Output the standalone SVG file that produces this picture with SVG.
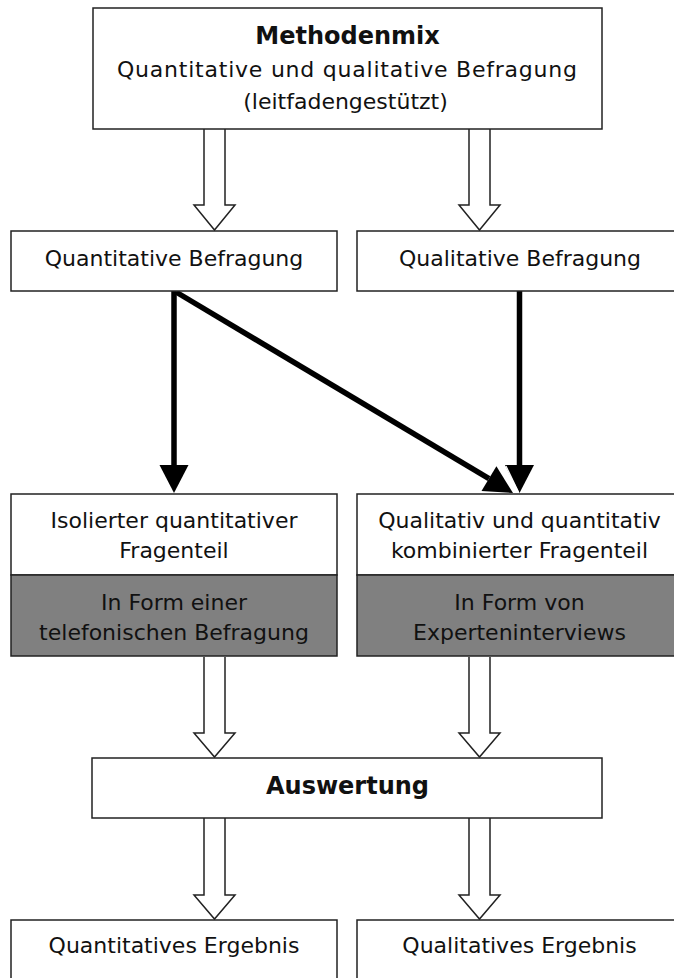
<svg xmlns="http://www.w3.org/2000/svg" width="674" height="978" viewBox="0 0 674 978">
<style>
.box{fill:#fff;stroke:#222;stroke-width:1.5}
.grey{fill:#808080;stroke:#222;stroke-width:1.5}
.t{font-family:"DejaVu Sans","Verdana",sans-serif;font-size:22px;fill:#111;text-anchor:middle}
.b{font-family:"DejaVu Sans","Verdana",sans-serif;font-size:24px;font-weight:bold;fill:#111;text-anchor:middle}
.hollow{fill:#fff;stroke:#222;stroke-width:1.5;stroke-linejoin:miter}
.thick{stroke:#000;stroke-width:5.5;fill:none}
.head{fill:#000}
</style>
<rect width="674" height="978" fill="#fff"/>
<g id="connectors">
  <path class="hollow" d="M204,129 V205 H194 L214.5,230 L235,205 H225 V129"/>
  <path class="hollow" d="M469,129 V205 H459 L479.5,230 L500,205 H490 V129"/>
  <path class="hollow" d="M204,657 V733 H194 L214.5,757 L235,733 H225 V657"/>
  <path class="hollow" d="M469,657 V733 H459 L479.5,757 L500,733 H490 V657"/>
  <path class="hollow" d="M204,818 V895 H194 L214.5,919 L235,895 H225 V818"/>
  <path class="hollow" d="M469,818 V895 H459 L479.5,919 L500,895 H490 V818"/>
  <line class="thick" x1="174" y1="291" x2="174" y2="467"/>
  <polygon class="head" points="159.5,465 188.5,465 174,493"/>
  <line class="thick" x1="176" y1="292" x2="489" y2="478.7"/>
  <polygon class="head" points="481.5,491.1 496.4,466.2 513,493"/>
  <line class="thick" x1="519.5" y1="291" x2="519.5" y2="467"/>
  <polygon class="head" points="505,465 534,465 519.5,493"/>
  <line x1="506" y1="466" x2="518.5" y2="492" stroke="#fff" stroke-width="1.2"/>
</g>
<g id="methodenmix">
  <rect class="box" x="93" y="8" width="509" height="121"/>
  <text class="b" x="347.5" y="44">Methodenmix</text>
  <text class="t" x="347" y="77" textLength="460" lengthAdjust="spacing">Quantitative und qualitative Befragung</text>
  <text class="t" x="345.5" y="109">(leitfadengestützt)</text>
</g>
<g id="quantitative-befragung">
  <rect class="box" x="11" y="231" width="326" height="60"/>
  <text class="t" x="174" y="266">Quantitative Befragung</text>
</g>
<g id="qualitative-befragung">
  <rect class="box" x="357" y="231" width="326" height="60"/>
  <text class="t" x="520" y="266">Qualitative Befragung</text>
</g>
<g id="isolierter-fragenteil">
  <rect class="box" x="11" y="494" width="326" height="81"/>
  <rect class="grey" x="11" y="575" width="326" height="81"/>
  <text class="t" x="174" y="528">Isolierter quantitativer</text>
  <text class="t" x="174" y="558">Fragenteil</text>
  <text class="t" x="174" y="610">In Form einer</text>
  <text class="t" x="174" y="640">telefonischen Befragung</text>
</g>
<g id="kombinierter-fragenteil">
  <rect class="box" x="357" y="494" width="326" height="81"/>
  <rect class="grey" x="357" y="575" width="326" height="81"/>
  <text class="t" x="519.5" y="528">Qualitativ und quantitativ</text>
  <text class="t" x="519.5" y="558">kombinierter Fragenteil</text>
  <text class="t" x="519.5" y="610">In Form von</text>
  <text class="t" x="519.5" y="640">Experteninterviews</text>
</g>
<g id="auswertung">
  <rect class="box" x="92" y="758" width="510" height="60"/>
  <text class="b" x="347.5" y="794">Auswertung</text>
</g>
<g id="quantitatives-ergebnis">
  <rect class="box" x="11" y="920" width="326" height="70"/>
  <text class="t" x="174" y="953">Quantitatives Ergebnis</text>
</g>
<g id="qualitatives-ergebnis">
  <rect class="box" x="357" y="920" width="326" height="70"/>
  <text class="t" x="519.5" y="953">Qualitatives Ergebnis</text>
</g>
</svg>
